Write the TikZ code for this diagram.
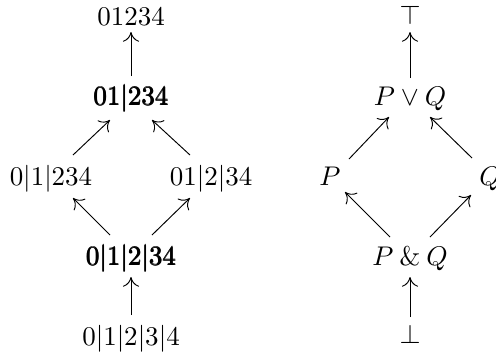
\documentclass[tikz,border=0pt]{standalone}
\usetikzlibrary{calc,arrows.meta}
\newcommand{\boldpart}[1]{\rlap{$#1$}\rlap{\kern0.3pt$#1$}\rlap{\kern0.15pt\raisebox{0.12pt}{$#1$}}\kern0.3pt\phantom{$#1$}}
\begin{document}
\begin{tikzpicture}[x=0.37037pt,y=-0.37037pt,
  lbl/.style={anchor=base,inner sep=0pt},
  arr/.style={-{Computer Modern Rightarrow[length=3.6pt,width=6pt,line width=0.35pt]},line width=0.35pt}]
\useasboundingbox (0,0) rectangle (496,352);
% left lattice
\node[lbl] (t0) at (131,25) {$01234$};
\node[lbl] (t1) at (131,105) {\boldpart{01|234}};
\node[lbl] (l) at (51,185) {$0|1|234$};
\node[lbl] (r) at (211,185) {$01|2|34$};
\node[lbl] (b1) at (131,265) {\boldpart{0|1|2|34}};
\node[lbl] (b0) at (131,345) {$0|1|2|3|4$};
\draw[arr] ($(t1.base)+(0,-29)$) -- ($(t0.base)+(0,7)$);
\draw[arr] ($(l.base)+(22,-30)$) -- ($(t1.base)+(-21,15)$);
\draw[arr] ($(r.base)+(-21,-30)$) -- ($(t1.base)+(21,15)$);
\draw[arr] ($(b1.base)+(-21,-30)$) -- ($(l.base)+(22,13)$);
\draw[arr] ($(b1.base)+(21,-30)$) -- ($(r.base)+(-21,13)$);
\draw[arr] ($(b0.base)+(0,-30)$) -- ($(b1.base)+(0,12)$);
% right lattice
\node[lbl] (rt) at (410,24) {$\top$};
\node[lbl] (rj) at (410,105) {$P\vee Q$};
\node[lbl] (p) at (330,185) {$P$};
\node[lbl] (q) at (490,185) {$Q$};
\node[lbl] (rm) at (410,265) {$P \mathbin{\&} Q$};
\node[lbl] (rb) at (410,343) {$\bot$};
\draw[arr] ($(rj.base)+(0,-27)$) -- ($(rt.base)+(0,8)$);
\draw[arr] ($(p.base)+(19,-26)$) -- ($(rj.base)+(-21,12)$);
\draw[arr] ($(q.base)+(-18,-27)$) -- ($(rj.base)+(20,12)$);
\draw[arr] ($(rm.base)+(-20,-28)$) -- ($(p.base)+(15,7)$);
\draw[arr] ($(rm.base)+(20,-28)$) -- ($(q.base)+(-19,10)$);
\draw[arr] ($(rb.base)+(0,-26)$) -- ($(rm.base)+(0,12)$);
\end{tikzpicture}
\end{document}
